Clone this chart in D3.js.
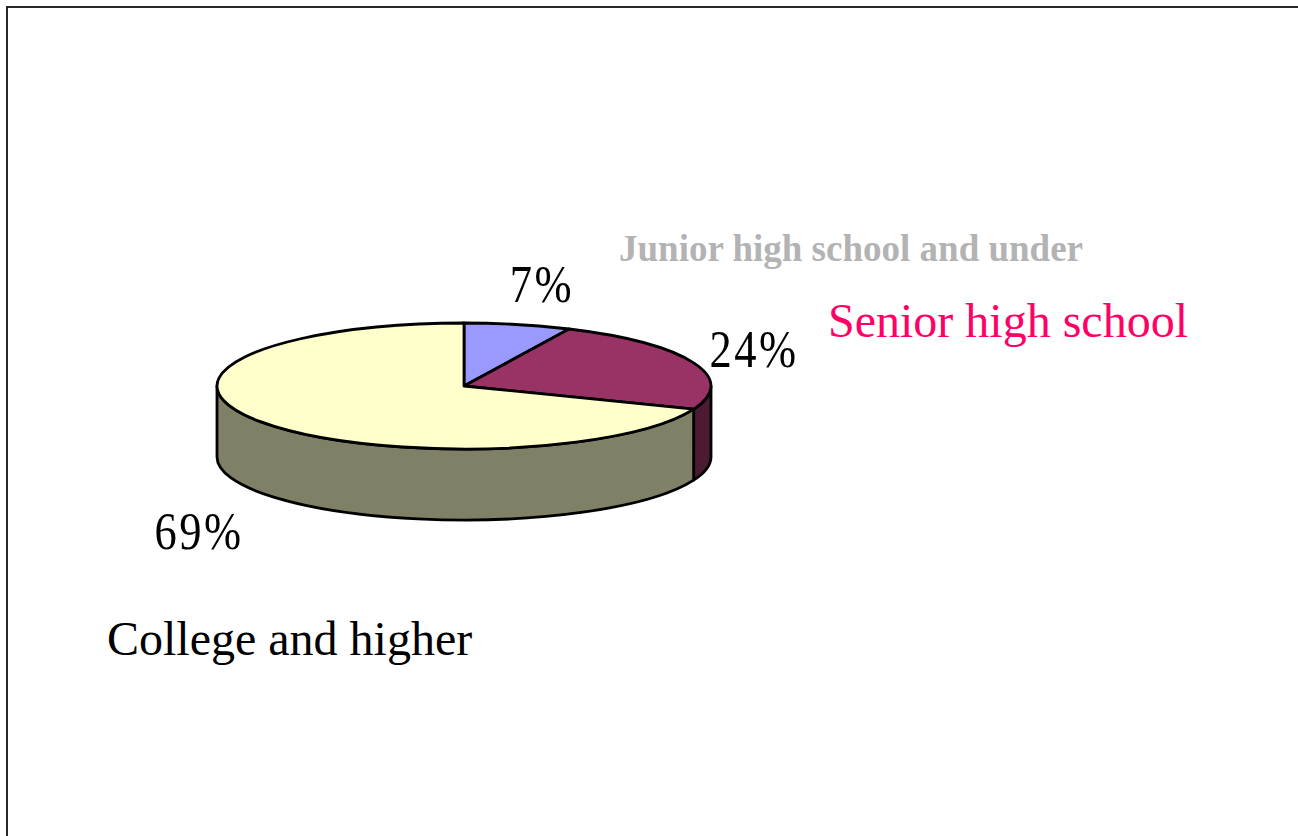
<!DOCTYPE html>
<html>
<head>
<meta charset="utf-8">
<script src="https://cdn.jsdelivr.net/npm/d3@7"></script>
<style>
  body { margin: 0; background: #fff; }
  svg { display: block; }
</style>
</head>
<body>
<svg id="chart"></svg>
<script>
// data
var categories = ["Junior high school and under", "Senior high school", "College and higher"];
var shares = [7, 24, 69];
var pctLabels = ["7%", "24%", "69%"];

// styles
var topColors = ["#9999ff", "#993366", "#ffffcc"];
var sideColors = ["#4d4d80", "#4d1a33", "#808066"];
var nameColors = ["#b3b3b3", "#ff0066", "#000000"];

var screen = {width: 1298, height: 836};
var cx = 464, cy = 386, rx = 247, ry = 63, depth = 71;

var svg = d3.select("#chart")
    .attr("width", screen.width)
    .attr("height", screen.height);

// frame
svg.append("rect")
    .attr("x", 7).attr("y", 7)
    .attr("width", screen.width + 20).attr("height", screen.height + 20)
    .attr("fill", "none").attr("stroke", "#111").attr("stroke-width", 1.8);

var pie = d3.pie().sort(null).value(function(d) { return d; });
var arcs = pie(shares);

function pt(a, dy) {
    return [cx + rx * Math.sin(a), cy - ry * Math.cos(a) + (dy || 0)];
}

function topPath(d) {
    var p0 = pt(d.startAngle), p1 = pt(d.endAngle);
    var large = (d.endAngle - d.startAngle) > Math.PI ? 1 : 0;
    return "M" + cx + "," + cy + "L" + p0 + "A" + rx + "," + ry + " 0 " + large + " 1 " + p1 + "Z";
}

function sidePath(d) {
    var a0 = Math.max(d.startAngle, Math.PI / 2);
    var a1 = Math.min(d.endAngle, Math.PI * 1.5);
    if (a1 <= a0) return null;
    var p0 = pt(a0), p1 = pt(a1), q0 = pt(a0, depth), q1 = pt(a1, depth);
    return "M" + p0 + "A" + rx + "," + ry + " 0 0 1 " + p1 +
        "L" + q1 + "A" + rx + "," + ry + " 0 0 0 " + q0 + "Z";
}

// sides first
svg.selectAll("path.side")
    .data(arcs.filter(function(d) { return sidePath(d) != null; }))
    .enter()
    .append("path")
    .attr("class", "side")
    .attr("d", sidePath)
    .attr("fill", function(d) { return sideColors[d.index]; })
    .attr("stroke", "#000")
    .attr("stroke-width", 2.8)
    .attr("stroke-linejoin", "round");

svg.selectAll("path.top")
    .data(arcs)
    .enter()
    .append("path")
    .attr("class", "top")
    .attr("d", topPath)
    .attr("fill", function(d) { return topColors[d.index]; })
    .attr("stroke", "#000")
    .attr("stroke-width", 2.8)
    .attr("stroke-linejoin", "round");

// percent labels, offset from the pie centre
var pctOffsets = [[78, -84], [290, -19], [-265, 163]];
svg.selectAll("text.pct")
    .data(arcs)
    .enter()
    .append("text")
    .attr("class", "pct")
    .attr("transform", function(d) {
        var o = pctOffsets[d.index];
        return "translate(" + (cx + o[0]) + "," + (cy + o[1]) + ") scale(0.84,1)";
    })
    .attr("text-anchor", "middle")
    .attr("font-family", "Liberation Serif, serif")
    .attr("font-size", 53)
    .attr("letter-spacing", 3)
    .attr("fill", "#000")
    .text(function(d) { return pctLabels[d.index]; });

// category names
var namePos = [[619, 261], [828, 337], [107, 655]];
var nameSize = [37, 48, 48];
var nameWeight = ["bold", "normal", "normal"];
svg.selectAll("text.name")
    .data(categories)
    .enter()
    .append("text")
    .attr("class", "name")
    .attr("x", function(d, i) { return namePos[i][0]; })
    .attr("y", function(d, i) { return namePos[i][1]; })
    .attr("font-family", "Liberation Serif, serif")
    .attr("font-size", function(d, i) { return nameSize[i]; })
    .attr("font-weight", function(d, i) { return nameWeight[i]; })
    .attr("fill", function(d, i) { return nameColors[i]; })
    .text(function(d) { return d; });
</script>
</body>
</html>
